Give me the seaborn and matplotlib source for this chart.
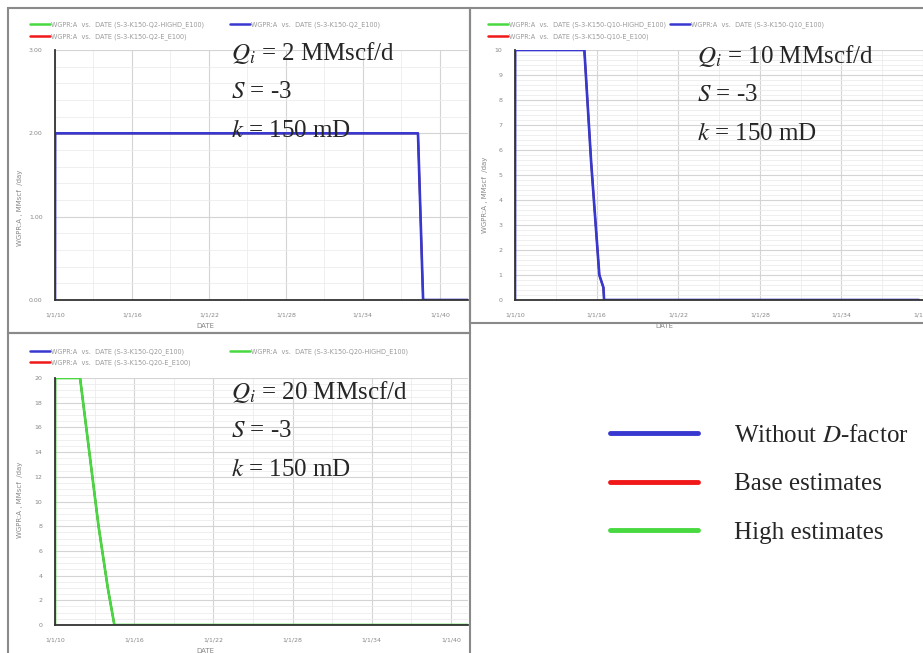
import matplotlib
matplotlib.use("Agg")
import matplotlib.pyplot as plt
from matplotlib.lines import Line2D
from matplotlib.patches import Rectangle
from matplotlib.ticker import MultipleLocator, FormatStrFormatter
import seaborn as sns
import pandas as pd

# panel 1 : Qi = 2 MMscf/d
p1_years = [2010.0, 2010.01, 2038.3, 2038.7, 2042.2]
p1_rate = [0.0, 2.0, 2.0, 0.0, 0.0]
# panel 2 : Qi = 10 MMscf/d
p2_years = [2010.0, 2010.01, 2015.1, 2015.6, 2016.2, 2016.5, 2016.55, 2039.7]
p2_rate = [0.0, 10.0, 10.0, 5.5, 1.0, 0.5, 0.0, 0.0]
# panel 3 : Qi = 20 MMscf/d
p3_years = [2010.0, 2010.01, 2011.9, 2012.6, 2013.3, 2014.0, 2014.5, 2041.3]
p3_rate = [0.0, 20.0, 20.0, 14.0, 8.0, 3.0, 0.0, 0.0]

tick_years = [2010, 2016, 2022, 2028, 2034, 2040]
tick_labels = ["1/1/10", "1/1/16", "1/1/22", "1/1/28", "1/1/34", "1/1/40"]

series = ["Without D-factor", "Base estimates", "High estimates"]
colors = {"Without D-factor": "#3838d0", "Base estimates": "#f01818", "High estimates": "#48d840"}

W, H = 923, 653

sns.set_style("white")
plt.rcParams["font.family"] = ["DejaVu Sans"]
plt.rcParams["mathtext.fontset"] = "stix"
serif = ["Liberation Serif", "DejaVu Serif"]


def box(l, t, r, b):
    return [l / W, 1 - b / H, (r - l) / W, (b - t) / H]


fig = plt.figure(figsize=(W / 100, H / 100), dpi=100)

# screenshot frames
for (l, t, r, b) in [(8, 8, 470, 333), (470, 8, 930, 323), (8, 333, 470, 660)]:
    fig.patches.append(Rectangle((l / W, 1 - b / H), (r - l) / W, (b - t) / H,
                                 transform=fig.transFigure, fill=False,
                                 edgecolor="#8a8a8a", lw=1.5))

panels = [
    dict(years=p1_years, rate=p1_rate, pos=(55, 50, 468, 300), xlim=(2010, 2042.2),
         ylim=(0, 3), major=1, minor=0.2, fmt="%.2f", q="2", ylab=(20, 208),
         order=["High estimates", "Base estimates", "Without D-factor"],
         leg=[(30, 25), (30, 37), (230, 25)], txt=(231, 53),
         tags={"High estimates": "Q2-HIGHD", "Base estimates": "Q2-E", "Without D-factor": "Q2"}),
    dict(years=p2_years, rate=p2_rate, pos=(515, 50, 923, 300), xlim=(2010, 2039.7),
         ylim=(0, 10), major=1, minor=0.2, fmt="%d", q="10", ylab=(485, 195),
         order=["High estimates", "Base estimates", "Without D-factor"],
         leg=[(488, 25), (488, 37), (670, 25)], txt=(697, 56),
         tags={"High estimates": "Q10-HIGHD", "Base estimates": "Q10-E", "Without D-factor": "Q10"}),
    dict(years=p3_years, rate=p3_rate, pos=(55, 378, 468, 625), xlim=(2010, 2041.3),
         ylim=(0, 20), major=2, minor=0.5, fmt="%d", q="20", ylab=(20, 500),
         order=["Without D-factor", "Base estimates", "High estimates"],
         leg=[(30, 352), (30, 363), (230, 352)], txt=(231, 392),
         tags={"High estimates": "Q20-HIGHD", "Base estimates": "Q20-E", "Without D-factor": "Q20"}),
]

for p in panels:
    l, t, r, b = p["pos"]
    ax = fig.add_axes(box(l, t, r, b))
    df = pd.DataFrame({"year": p["years"], "rate": p["rate"]})
    for i, s in enumerate(p["order"]):
        lw = 1.9 if i == len(p["order"]) - 1 else 1.3
        sns.lineplot(data=df, x="year", y="rate", color=colors[s], estimator=None,
                     sort=False, lw=lw, ax=ax)
    ax.set_xlim(*p["xlim"])
    ax.set_ylim(*p["ylim"])
    ax.set_xticks(tick_years)
    ax.set_xticklabels(tick_labels)
    ax.xaxis.set_minor_locator(MultipleLocator(3))
    ax.yaxis.set_major_locator(MultipleLocator(p["major"]))
    ax.yaxis.set_minor_locator(MultipleLocator(p["minor"]))
    ax.yaxis.set_major_formatter(FormatStrFormatter(p["fmt"]))
    ax.tick_params(which="major", direction="out", length=6, width=1.2, colors="#444444",
                   labelsize=4.5, labelcolor="#888888", pad=3)
    ax.tick_params(which="minor", direction="inout", length=5, width=0.7, colors="#666666")
    ax.grid(which="major", color="#d4d4d4", lw=0.8)
    ax.grid(which="minor", color="#ececec", lw=0.6)
    for s in ["top", "right"]:
        ax.spines[s].set_visible(False)
    for s in ["left", "bottom"]:
        ax.spines[s].set_color("#333333")
        ax.spines[s].set_linewidth(1.3)
    ax.set_xlabel("DATE", fontsize=5, color="#888888")
    ax.xaxis.set_label_coords(0.365, -23 / (b - t), transform=ax.transAxes)
    ax.set_ylabel("")
    fig.text(p["ylab"][0] / W, 1 - p["ylab"][1] / H, "WGPR:A , MMscf  /day", rotation=90,
             fontsize=5, color="#888888", ha="center", va="center")

    # small per-panel legend entries
    for s, (lx, ly) in zip(p["order"], p["leg"]):
        lg = fig.legend([Line2D([], [], color=colors[s], lw=1.8)],
                        ["WGPR:A  vs.  DATE (S-3-K150-%s_E100)" % p["tags"][s]],
                        loc="center left", bbox_to_anchor=(lx / W, 1 - ly / H),
                        frameon=False, fontsize=4.7, labelcolor="#9a9a9a",
                        handlelength=3.0, handletextpad=0.2, borderpad=0, borderaxespad=0)

    tx, ty = p["txt"]
    for k, line in enumerate([r"$Q_i$ = %s MMscf/d" % p["q"], r"$S$ = -3", r"$k$ = 150 mD"]):
        fig.text(tx / W, 1 - (ty + 39 * k) / H, line, fontsize=18, family=serif, va="center")

# big legend
big_handles = [Line2D([], [], color=colors[s], lw=3.5) for s in series]
big_labels = [r"Without $D$-factor", "Base estimates", "High estimates"]
fig.legend(big_handles, big_labels, loc="center left", bbox_to_anchor=(610 / W, 1 - 484 / H),
           frameon=False, prop={"family": "Liberation Serif", "size": 18},
           handlelength=3.5, handletextpad=1.45, labelspacing=1.05, borderaxespad=0,
           borderpad=0)

fig.savefig("out.png", dpi=100)
